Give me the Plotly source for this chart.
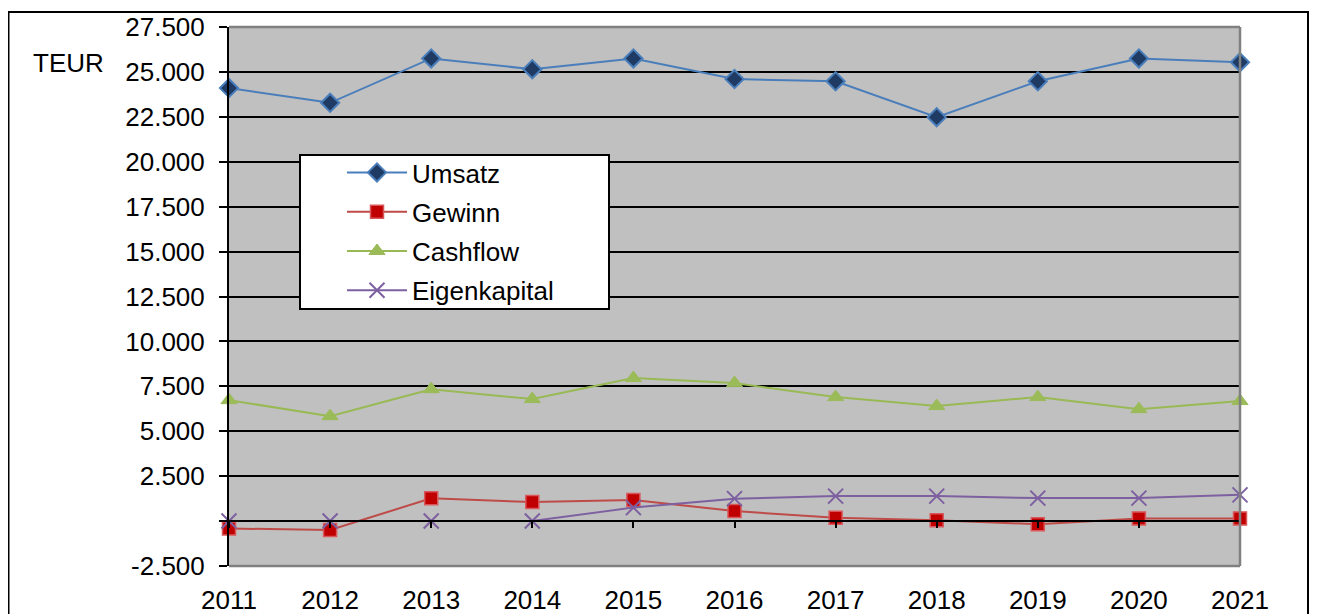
import plotly.graph_objects as go

# data (TEUR)
years = [2011, 2012, 2013, 2014, 2015, 2016, 2017, 2018, 2019, 2020, 2021]
umsatz = [24100, 23280, 25750, 25150, 25750, 24600, 24480, 22480, 24480, 25750, 25540]
gewinn = [-410, -500, 1270, 1060, 1170, 560, 180, 40, -170, 150, 150]
cashflow = [6730, 5840, 7340, 6790, 7960, 7680, 6900, 6400, 6900, 6230, 6680]
eigenkapital = [0, 0, 0, 0, 750, 1250, 1390, 1390, 1280, 1280, 1460]

y_ticks = list(range(-2500, 27501, 2500))
y_labels = ["" if v == 0 else f"{v:,}".replace(",", ".") for v in y_ticks]

FONT = "Liberation Sans, Arial, sans-serif"

# plot area in figure pixels (page body adds an 8px offset)
L, R, T, B = 221, 1232, 19, 558
W, H = 1318, 614


def px(x):
    return (x - L) / (R - L)


def py(y):
    return (B - y) / (B - T)


fig = go.Figure()

series = [
    ("Umsatz", umsatz, "#4A7EBB", dict(symbol="diamond", size=14, color="#1F3B64",
                                       line=dict(color="#4A7EBB", width=2))),
    ("Gewinn", gewinn, "#BE4B48", dict(symbol="square", size=13, color="#C00000",
                                       line=dict(color="#D9575A", width=1.5))),
    ("Cashflow", cashflow, "#98B954", dict(symbol="triangle-up", size=14, color="#9BBB59",
                                           line=dict(color="#9BBB59", width=1))),
    ("Eigenkapital", eigenkapital, "#7D60A0", dict(symbol="x-thin", size=15,
                                                   line=dict(color="#7D60A0", width=2))),
]

for i, (name, vals, col, marker) in enumerate(series):
    fig.add_trace(go.Scatter(
        x=years, y=vals, name=name, mode="lines+markers",
        line=dict(color=col, width=2),
        marker=marker,
        legendgroup=f"g{i}",
        cliponaxis=False,
    ))

# invisible helper trace so the zero-line category axis (x2) is drawn
fig.add_trace(go.Scatter(x=years, y=umsatz, xaxis="x2", mode="lines",
                         line=dict(width=0), opacity=0, showlegend=False, hoverinfo="skip"))

fig.update_layout(
    width=W, height=H,
    margin=dict(l=L, r=W - R, t=T, b=H - B, autoexpand=False),
    paper_bgcolor="white",
    plot_bgcolor="#C0C0C0",
    font=dict(family=FONT, size=26, color="black"),
    showlegend=True,
    legend=dict(
        x=px(334), y=py(141), xanchor="left", yanchor="top",
        bgcolor="rgba(0,0,0,0)", borderwidth=0,
        font=dict(size=26), tracegroupgap=2.5, itemwidth=60,
    ),
    xaxis=dict(
        range=[2011, 2021], tickvals=years, ticktext=[str(y) for y in years],
        showgrid=False, zeroline=False, showline=False, ticks="",
        ticklabelstandoff=16, automargin=False,
    ),
    xaxis2=dict(
        overlaying="x", anchor="free", position=2500 / 30000,
        range=[2011, 2021], tickvals=years, showticklabels=False,
        showgrid=False, zeroline=False, showline=True, linecolor="black", linewidth=2,
        ticks="outside", ticklen=6, tickwidth=2, tickcolor="black", automargin=False,
    ),
    yaxis=dict(
        range=[-2500, 27500], tickvals=y_ticks, ticktext=y_labels,
        showgrid=True, gridcolor="black", gridwidth=2,
        zeroline=False, showline=True, linecolor="black", linewidth=2,
        ticks="outside", ticklen=8, tickwidth=2, tickcolor="black",
        ticklabelstandoff=9, automargin=False,
    ),
)

# gray frame of the plot area (top, right, bottom)
for x0, y0, x1, y1 in [(0, 1, 1, 1), (1, 0, 1, 1), (0, 0, 1, 0)]:
    fig.add_shape(type="line", xref="paper", yref="paper", x0=x0, y0=y0, x1=x1, y1=y1,
                  line=dict(color="#808080", width=2.5))

# legend box
fig.add_shape(type="rect", xref="paper", yref="paper",
              x0=px(292), x1=px(601), y0=py(301), y1=py(147),
              fillcolor="white", line=dict(color="black", width=2))

# outer chart border
fig.add_shape(type="rect", xref="paper", yref="paper",
              x0=px(0.5), x1=px(1300), y0=py(640), y1=py(4),
              line=dict(color="black", width=2))

fig.add_annotation(text="TEUR", xref="paper", yref="paper", x=px(60), y=py(55),
                   showarrow=False, font=dict(size=26), xanchor="center", yanchor="middle")

fig.write_html("out.html")
